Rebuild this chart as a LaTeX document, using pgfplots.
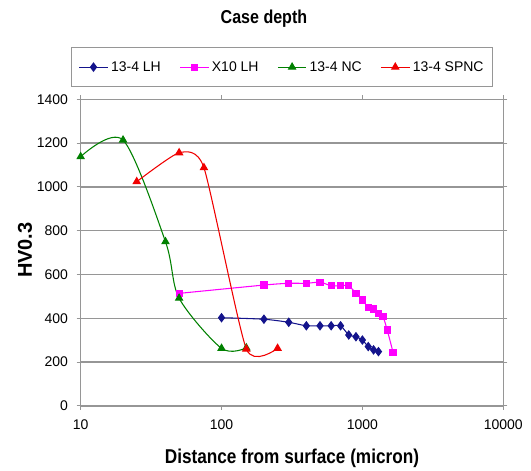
\documentclass[border=0pt]{standalone}
\usepackage{pgfplots}
\pgfplotsset{compat=1.18}
\usepackage{fontspec}
\setmainfont{Liberation Sans}
\newfontfamily\narrowbf[FakeStretch=0.86]{Liberation Sans Bold}
\definecolor{gridgray}{RGB}{150,150,150}
\definecolor{lhblue}{RGB}{20,20,140}
\definecolor{xmag}{RGB}{255,0,255}
\definecolor{ncgreen}{RGB}{0,128,0}
\definecolor{spred}{RGB}{240,0,0}
\begin{document}
\begin{tikzpicture}
\useasboundingbox (-60.5pt,-48.75pt) rectangle (337.8pt,304.5pt);
\begin{axis}[
  scale only axis, width=317pt, height=230pt,
  xmode=log, xmin=10, xmax=10000, ymin=0, ymax=1400,
  xtick={10,100,1000,10000}, xticklabels={10,100,1000,10000},
  ytick={0,200,400,600,800,1000,1200,1400},
  yticklabels={0,200,400,600,800,1000,1200,1400},
  xminorticks=false, yminorticks=false,
  ymajorgrids, grid style={gridgray, line width=1pt},
  axis line style={gridgray, line width=1pt},
  tick style={gridgray, line width=0.8pt}, tick align=outside,
  major tick length=3pt,
  ticklabel style={font=\fontsize{10.5}{12}\selectfont},
  xticklabel style={yshift=-4pt},
  yticklabel style={xshift=-3pt},
  xlabel={Distance from surface (micron)},
  xlabel style={font=\narrowbf\fontsize{15}{17}\selectfont, at={(axis description cs:0.5,-0.1695)}, anchor=center, inner sep=0pt},
  ylabel={HV0.3},
  ylabel style={font=\bfseries\fontsize{15}{17}\selectfont, at={(axis description cs:-0.1318,0.508)}, anchor=center, inner sep=0pt},
  title={Case depth},
  title style={font=\narrowbf\fontsize{14}{16}\selectfont, at={(axis description cs:0.4337,1.2357)}, anchor=center, inner sep=0pt},
  legend columns=4,
  legend style={at={(axis description cs:0.4775,1.105)}, anchor=center,
    draw=gridgray, line width=0.8pt, font=\fontsize{10.5}{12}\selectfont,
    inner xsep=5pt, inner ysep=8pt, /tikz/every even column/.append style={column sep=12pt}},
  legend image code/.code={\draw[mark repeat=2,mark phase=2,#1] plot coordinates {(0pt,0pt) (10.75pt,0pt) (21.5pt,0pt)};},
]
\addplot[lhblue, line width=0.8pt, smooth, tension=0.4, mark=diamond*, mark size=3pt, mark options={solid}] coordinates {
(100,403) (200,396) (300,382) (400,366) (500,366) (600,366) (700,366) (800,324) (900,316) (1000,301) (1100,271) (1200,256) (1300,248)};
\addlegendentry{13-4 LH}
\addplot[xmag, line width=0.8pt, smooth, tension=0.4, mark=square*, mark size=2.3pt] coordinates {
(50,514) (200,552) (300,560) (400,560) (500,565) (600,549) (700,549) (800,549) (900,514) (1000,484) (1100,450) (1200,443) (1300,423) (1400,408) (1500,347) (1650,245)};
\addlegendentry{X10 LH}
\addplot[ncgreen, line width=0.8pt, smooth, tension=0.5, mark=triangle*, mark size=3pt] coordinates {
(10,1138) (20,1214) (40,750) (50,492) (100,263) (150,265)};
\addlegendentry{13-4 NC}
\addplot[spred, line width=0.8pt, smooth, tension=0.35, mark=triangle*, mark size=3pt] coordinates {
(25,1024) (50,1156) (75,1088) (150,260) (250,263)};
\addlegendentry{13-4 SPNC}
\end{axis}
\end{tikzpicture}
\end{document}
